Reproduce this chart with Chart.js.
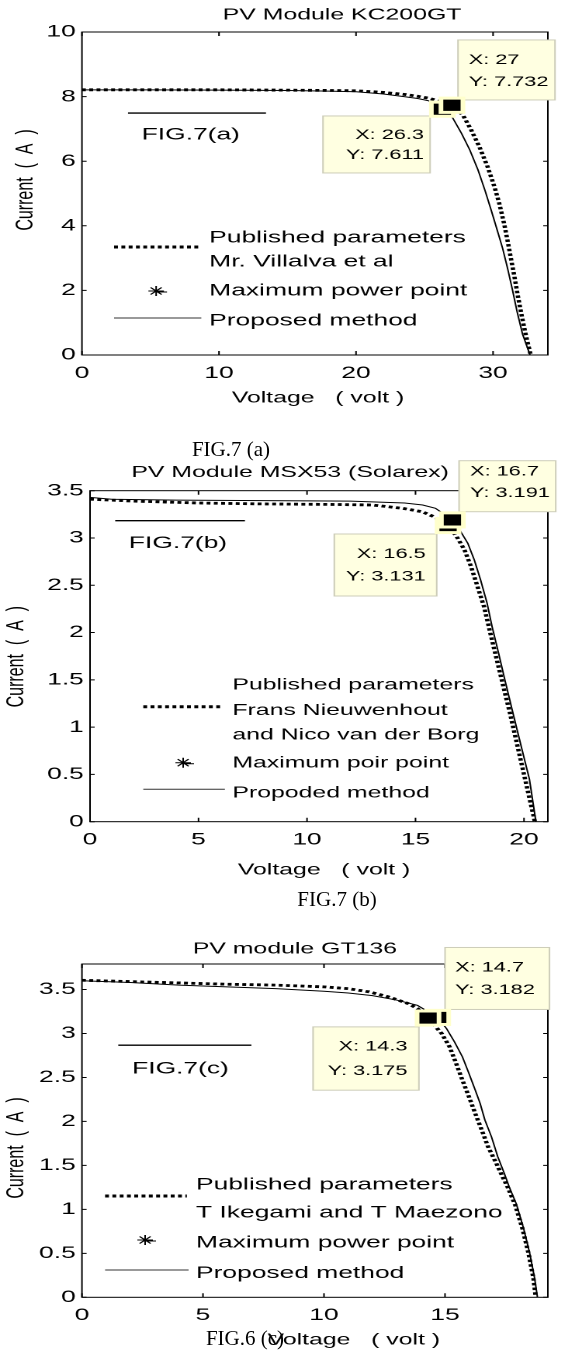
<!DOCTYPE html>
<html>
<head>
<meta charset="utf-8">
<script src="https://cdn.jsdelivr.net/npm/chart.js@4.4.1/dist/chart.umd.min.js"></script>
<style>
  body { margin: 0; background: #fff; width: 568px; height: 1350px; position: relative; overflow: hidden; }
  .wrap { position: absolute; left: 0; width: 366px; transform: scaleX(1.552); transform-origin: 0 0; }
  .cap { position: absolute; font-family: "Liberation Serif", serif; font-size: 21px; color: #000;
         white-space: nowrap; transform: translate(-50%, -50%); z-index: 5; }
</style>
</head>
<body>
<div class="wrap" style="top:0;height:430px"><canvas id="kc" width="366" height="430"></canvas></div>
<div class="wrap" style="top:430px;height:490px"><canvas id="msx" width="366" height="490"></canvas></div>
<div class="wrap" style="top:920px;height:430px"><canvas id="gt" width="366" height="430"></canvas></div>
<div class="cap" style="left:231px;top:449px">FIG.7 (a)</div>
<div class="cap" style="left:337px;top:899px">FIG.7 (b)</div>
<div class="cap" style="left:245px;top:1338px">FIG.6 (c)</div>
<script>
// ---- FIG.7(a) PV Module KC200GT ----
const kcPubV  = [0, 5, 10, 15, 18, 20, 22, 23.5, 24.5, 25.3, 26, 27, 27.8, 28.4, 29.0, 29.6, 30.1, 30.45, 30.8, 31.05, 31.3, 31.55, 31.8, 32.1, 32.4, 32.75];
const kcPubI  = [8.21, 8.21, 8.21, 8.2, 8.19, 8.18, 8.13, 8.07, 8.01, 7.95, 7.87, 7.732, 7.43, 6.97, 6.45, 5.83, 5.21, 4.7, 4.08, 3.56, 3.0, 2.45, 1.85, 1.2, 0.6, 0];
const kcPropV = [0, 5, 10, 15, 18, 20, 22, 23.5, 24.5, 25.3, 26.3, 27.0, 27.7, 28.3, 28.9, 29.4, 29.86, 30.3, 30.7, 31.05, 31.4, 31.75, 32.15, 32.7];
const kcPropI = [8.21, 8.21, 8.2, 8.19, 8.17, 8.15, 8.08, 8.0, 7.94, 7.87, 7.611, 7.38, 6.86, 6.35, 5.73, 5.11, 4.49, 3.87, 3.3, 2.7, 2.05, 1.35, 0.65, 0];
const kcMppV  = [26.3, 27];
const kcMppI  = [7.611, 7.732];
const kcXTicks = [0, 10, 20, 30];
const kcYTicks = [0, 2, 4, 6, 8, 10];

// ---- FIG.7(b) PV Module MSX53 (Solarex) ----
const msxPubV  = [0, 2, 5, 8, 11, 13, 14.4, 15.3, 15.85, 16.5, 16.9, 17.26, 17.56, 17.86, 18.16, 18.45, 18.75, 19.05, 19.35, 19.65, 19.95, 20.2, 20.5];
const msxPubI  = [3.41, 3.39, 3.37, 3.36, 3.355, 3.349, 3.314, 3.278, 3.225, 3.131, 3.014, 2.873, 2.697, 2.485, 2.273, 1.992, 1.71, 1.428, 1.15, 0.85, 0.55, 0.3, 0];
const msxPropV = [0, 1, 4, 8, 12, 14.5, 15.33, 15.92, 16.7, 17.04, 17.41, 17.71, 18.0, 18.3, 18.53, 18.83, 19.12, 19.5, 19.9, 20.25, 20.55];
const msxPropI = [3.43, 3.41, 3.40, 3.395, 3.39, 3.37, 3.349, 3.314, 3.191, 3.084, 2.944, 2.767, 2.556, 2.309, 2.062, 1.781, 1.498, 1.14, 0.77, 0.45, 0];
const msxMppV  = [16.5, 16.7];
const msxMppI  = [3.131, 3.191];
const msxXTicks = [0, 5, 10, 15, 20];
const msxYTicks = [0, 0.5, 1, 1.5, 2, 2.5, 3, 3.5];

// ---- FIG.7(c) PV module GT136 ----
const gtPubV  = [0, 2, 4, 6, 8, 10, 11, 11.87, 12.67, 13.47, 13.86, 14.3, 14.86, 15.19, 15.46, 15.72, 15.99, 16.25, 16.52, 16.78, 17.12, 17.38, 17.58, 17.9, 18.2, 18.45, 18.65, 18.75];
const gtPubI  = [3.605, 3.59, 3.575, 3.56, 3.55, 3.53, 3.51, 3.473, 3.416, 3.341, 3.284, 3.175, 3.0, 2.848, 2.659, 2.469, 2.28, 2.09, 1.9, 1.711, 1.523, 1.37, 1.257, 1.05, 0.78, 0.5, 0.22, 0];
const gtPropV = [0, 2, 4, 6, 8, 10, 11, 12, 13, 13.86, 14.7, 15.06, 15.39, 15.72, 15.99, 16.25, 16.45, 16.65, 16.92, 17.18, 17.45, 17.65, 17.95, 18.25, 18.5, 18.7, 18.82];
const gtPropI = [3.6, 3.58, 3.55, 3.53, 3.51, 3.48, 3.46, 3.43, 3.38, 3.32, 3.182, 3.057, 2.905, 2.734, 2.545, 2.356, 2.205, 2.015, 1.825, 1.598, 1.409, 1.257, 1.06, 0.78, 0.5, 0.22, 0];
const gtMppV  = [14.7, 14.3];
const gtMppI  = [3.182, 3.175];
const gtXTicks = [0, 5, 10, 15];
const gtYTicks = [0, 0.5, 1, 1.5, 2, 2.5, 3, 3.5];

const W = 366;
const FONT = '"Liberation Sans", Arial, sans-serif';
const pts = (xs, ys) => xs.map((x, i) => ({ x: x, y: ys[i] }));

function star(ctx, x, y, r) {
  ctx.beginPath();
  for (let k = 0; k < 4; k++) {
    const a = k * Math.PI / 4;
    ctx.moveTo(x - r * Math.cos(a), y - r * Math.sin(a));
    ctx.lineTo(x + r * Math.cos(a), y + r * Math.sin(a));
  }
  ctx.moveTo(x, y + 1);
  ctx.lineTo(x + 7, y + 1);
  ctx.stroke();
}

// matlab-like frame, data tips, in-plot legend and labels
function decor(o) {
  return {
    id: 'decor',
    beforeDatasetsDraw(chart) {
      const ctx = chart.ctx, a = chart.chartArea, xs = chart.scales.x, ys = chart.scales.y;
      ctx.save();
      ctx.strokeStyle = '#000';
      ctx.lineWidth = 1;
      ctx.strokeRect(a.left, a.top, a.right - a.left, a.bottom - a.top);
      ctx.beginPath();
      o.xTicks.forEach(v => {
        const p = xs.getPixelForValue(v);
        ctx.moveTo(p, a.bottom); ctx.lineTo(p, a.bottom - 4);
        ctx.moveTo(p, a.top); ctx.lineTo(p, a.top + 4);
      });
      o.yTicks.forEach(v => {
        const p = ys.getPixelForValue(v);
        ctx.moveTo(a.left, p); ctx.lineTo(a.left + 3, p);
        ctx.moveTo(a.right, p); ctx.lineTo(a.right - 3, p);
      });
      ctx.stroke();

      ctx.font = '14px ' + FONT;
      ctx.textBaseline = 'middle';
      o.tips.forEach(t => {
        const v = o.mppV[t.i], c = o.mppI[t.i];
        const bx = xs.getPixelForValue(v) + t.dx, by = ys.getPixelForValue(c) + t.dy;
        ctx.fillStyle = 'rgb(255,255,225)';
        ctx.fillRect(bx, by, t.w, t.h);
        ctx.strokeStyle = 'rgb(205,205,185)';
        ctx.strokeRect(bx, by, t.w, t.h);
        ctx.fillStyle = '#000';
        ctx.textAlign = t.right ? 'right' : 'left';
        const tx = t.right ? bx + t.w - t.tx : bx + t.tx;
        ctx.fillText('X: ' + v, tx, by + t.ty[0]);
        ctx.fillText('Y: ' + c, tx, by + t.ty[1]);
      });
      ctx.restore();
    },
    afterDatasetsDraw(chart) {
      const ctx = chart.ctx, xs = chart.scales.x, ys = chart.scales.y, L = o.legend;
      ctx.save();
      ctx.fillStyle = '#000';
      ctx.strokeStyle = '#000';

      ctx.font = '16px ' + FONT;
      ctx.textAlign = 'center';
      ctx.textBaseline = 'middle';
      ctx.fillText(o.title, o.titlePos[0], o.titlePos[1]);
      ctx.fillText('Voltage   ( volt )', o.xTitlePos[0], o.xTitlePos[1]);
      ctx.save();
      ctx.translate(o.yTitlePos[0], o.yTitlePos[1]);
      ctx.rotate(-Math.PI / 2);
      ctx.fillText('Current  (  A  )', 0, 0);
      ctx.restore();

      ctx.font = '17px ' + FONT;
      ctx.textAlign = 'left';
      ctx.fillText(o.figText, xs.getPixelForValue(o.figTextAt[0]), ys.getPixelForValue(o.figTextAt[1]));

      // legend
      ctx.lineWidth = 3;
      ctx.setLineDash([2.5, 2.2]);
      ctx.beginPath();
      ctx.moveTo(L.dot[0], L.dot[2]); ctx.lineTo(L.dot[1], L.dot[2]);
      ctx.stroke();
      ctx.setLineDash([]);
      ctx.lineWidth = 1;
      ctx.strokeStyle = '#333';
      ctx.beginPath();
      ctx.moveTo(L.solid[0], L.solid[2]); ctx.lineTo(L.solid[1], L.solid[2]);
      ctx.stroke();
      ctx.strokeStyle = '#000';
      star(ctx, L.star[0], L.star[1], 5);
      ctx.font = L.size + 'px ' + FONT;
      L.pubText.forEach((s, k) => ctx.fillText(s, L.tx, L.pubY[k]));
      ctx.fillText(L.mppText, L.tx, L.mppY);
      ctx.fillText(L.propText, L.tx, L.propY);
      ctx.restore();
    }
  };
}

function ivChart(id, o) {
  return new Chart(document.getElementById(id), {
    type: 'scatter',
    data: {
      datasets: [
        { label: 'Maximum power point', data: pts(o.mppV, o.mppI), pointStyle: 'rect', pointRadius: 10,
          backgroundColor: '#000', borderColor: 'rgb(255,255,204)', borderWidth: 3, order: 0 },
        { label: 'Proposed method', data: pts(o.propV, o.propI), showLine: true, borderColor: '#000',
          borderWidth: 1, pointRadius: 0, order: 1 },
        { label: 'Published parameters', data: pts(o.pubV, o.pubI), showLine: true, borderColor: '#000',
          borderWidth: 2.8, borderDash: [2.5, 2.2], pointRadius: 0, order: 2 },
        { label: 'fig line', data: pts(o.figLineV, o.figLineI), showLine: true, borderColor: '#000',
          borderWidth: 1.4, pointRadius: 0, order: 3 }
      ]
    },
    options: {
      responsive: false,
      animation: false,
      devicePixelRatio: 2,
      events: [],
      layout: { padding: { left: 0, right: W - o.area.right, top: o.area.top, bottom: 0 } },
      plugins: { legend: { display: false }, tooltip: { enabled: false } },
      scales: {
        x: {
          type: 'linear', min: 0, max: o.xMax,
          grid: { display: false, drawTicks: false }, border: { display: false },
          afterBuildTicks: s => { s.ticks = o.xTicks.map(v => ({ value: v })); },
          afterFit: s => { s.height = o.h - o.area.bottom; },
          ticks: { padding: 8, color: '#000', font: { family: FONT, size: 17 }, maxRotation: 0, autoSkip: false,
                   callback: v => String(v) }
        },
        y: {
          type: 'linear', min: 0, max: o.yMax,
          grid: { display: false, drawTicks: false }, border: { display: false },
          afterBuildTicks: s => { s.ticks = o.yTicks.map(v => ({ value: v })); },
          afterFit: s => { s.width = o.area.left; },
          ticks: { padding: 4, color: '#000', font: { family: FONT, size: 17 }, autoSkip: false,
                   callback: v => String(v) }
        }
      }
    },
    plugins: [decor(o)]
  });
}

ivChart('kc', {
  h: 430, area: { left: 52.8, right: 358.9, top: 32, bottom: 355 },
  xMax: 34, yMax: 10, xTicks: kcXTicks, yTicks: kcYTicks,
  pubV: kcPubV, pubI: kcPubI, propV: kcPropV, propI: kcPropI, mppV: kcMppV, mppI: kcMppI,
  title: 'PV Module KC200GT', titlePos: [220.4, 15], xTitlePos: [204.9, 398], yTitlePos: [16.4, 180],
  figLineV: [3.36, 13.43], figLineI: [7.49, 7.49], figText: 'FIG.7(a)', figTextAt: [4.36, 6.81],
  tips: [
    { i: 1, dx: 3.9, dy: -65.3, w: 62.5, h: 60, tx: 6.9, ty: [20, 42] },
    { i: 0, dx: -76.9, dy: 6.8, w: 69, h: 57, tx: 3.9, ty: [19, 39], right: true }
  ],
  legend: { size: 17, dot: [73.5, 128.4, 247], solid: [73.5, 129.7, 318], star: [100.6, 291], tx: 134.8,
            pubText: ['Published parameters', 'Mr. Villalva et al'], pubY: [238, 262],
            mppText: 'Maximum power point', mppY: 291, propText: 'Proposed method', propY: 321 }
});

ivChart('msx', {
  h: 490, area: { left: 58.0, right: 362.3, top: 60.7, bottom: 391.7 },
  xMax: 21.1, yMax: 3.5, xTicks: msxXTicks, yTicks: msxYTicks,
  pubV: msxPubV, pubI: msxPubI, propV: msxPropV, propI: msxPropI, mppV: msxMppV, mppI: msxMppI,
  title: 'PV Module MSX53 (Solarex)', titlePos: [186.9, 42.7], xTitlePos: [208.8, 440], yTitlePos: [10.5, 226.7],
  figLineV: [1.16, 7.14], figLineI: [3.183, 3.183], figText: 'FIG.7(b)', figTextAt: [1.79, 2.944],
  tips: [
    { i: 1, dx: 4.3, dy: -59.2, w: 62.3, h: 51, tx: 7.1, ty: [11, 32.6] },
    { i: 0, dx: -73.3, dy: 8.4, w: 66, h: 62, tx: 7.1, ty: [20.3, 42.7], right: true }
  ],
  legend: { size: 16, dot: [92.3, 142.6, 276.7], solid: [92.3, 144.9, 359.3], star: [118, 332.7], tx: 149.7,
            pubText: ['Published parameters', 'Frans Nieuwenhout', 'and Nico van der Borg'], pubY: [255, 280.7, 305],
            mppText: 'Maximum poir point', mppY: 333.3, propText: 'Propoded method', propY: 363.3 }
});

ivChart('gt', {
  h: 430, area: { left: 52.8, right: 364.0, top: 44, bottom: 377.3 },
  xMax: 19.25, yMax: 3.79, xTicks: gtXTicks, yTicks: gtYTicks,
  pubV: gtPubV, pubI: gtPubI, propV: gtPropV, propI: gtPropI, mppV: gtMppV, mppI: gtMppI,
  title: 'PV module GT136', titlePos: [190, 29.3], xTitlePos: [228, 420], yTitlePos: [10.5, 228],
  figLineV: [1.5, 7.0], figLineI: [2.867, 2.867], figText: 'FIG.7(c)', figTextAt: [2.07, 2.60],
  tips: [
    { i: 0, dx: 4.7, dy: -70, w: 67.3, h: 62, tx: 6.5, ty: [20, 42.7] },
    { i: 1, dx: -74.1, dy: 8.8, w: 68.2, h: 63.3, tx: 7.4, ty: [20, 44.3], right: true }
  ],
  legend: { size: 17, dot: [67.7, 120.4, 276], solid: [67.7, 121.5, 350], star: [93.5, 320], tx: 126.3,
            pubText: ['Published parameters', 'T Ikegami and T Maezono'], pubY: [265, 292.7],
            mppText: 'Maximum power point', mppY: 322.7, propText: 'Proposed method', propY: 353.3 }
});
</script>
</body>
</html>
